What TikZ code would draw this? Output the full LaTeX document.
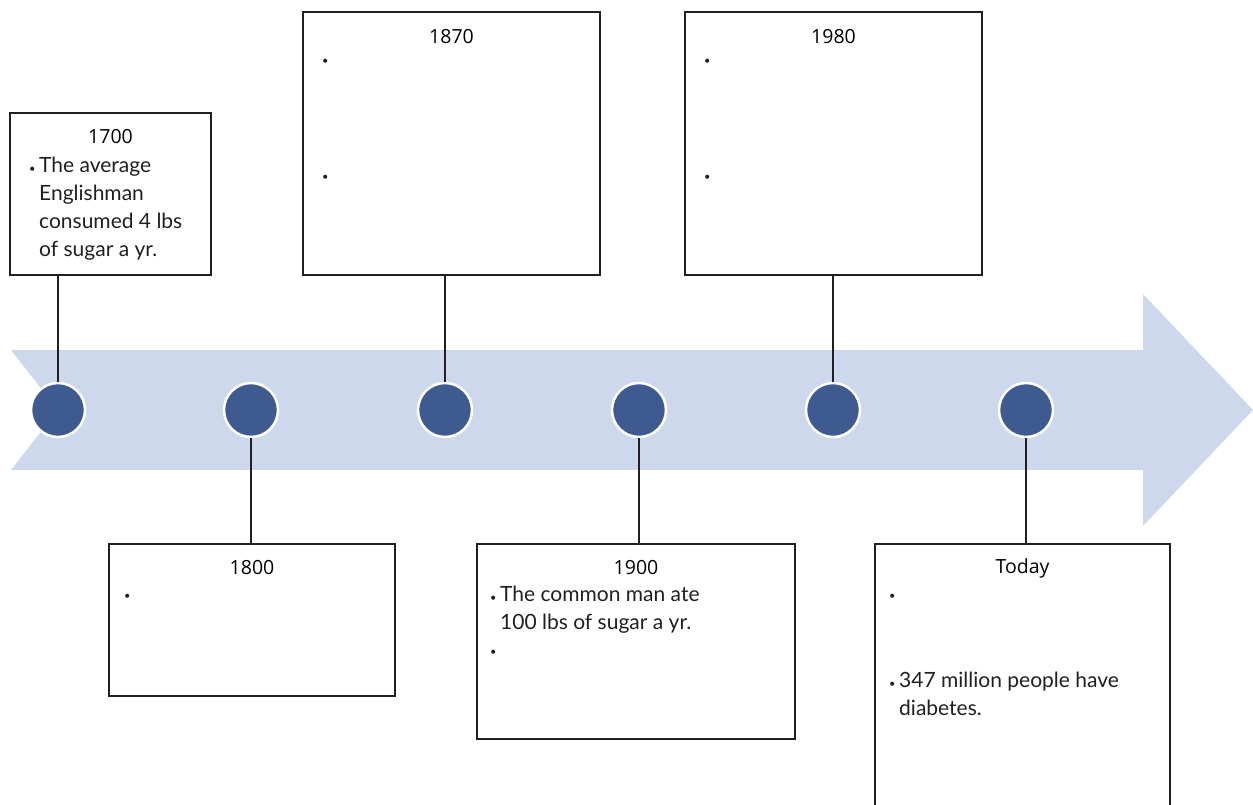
\documentclass[tikz,border=0pt]{standalone}
\usepackage{fontspec}
\setmainfont{Open Sans}
\newfontfamily\notefont{Lato}
\usetikzlibrary{positioning}
\definecolor{bandblue}{HTML}{CDD8EC}
\definecolor{dotblue}{HTML}{3E5A8E}
\definecolor{inkgray}{HTML}{231F20}
\newcommand{\bul}{\makebox[10pt][l]{\fontsize{11}{11}\selectfont\textbullet}}
\newcommand{\ind}{\hspace*{10pt}}
\tikzset{
  datebox/.style={draw=inkgray, line width=2.6pt, fill=white, inner sep=0pt},
  datedot/.style={circle, draw=white, line width=2.5pt, fill=dotblue, minimum size=54pt, inner sep=0pt},
  stem/.style={draw=inkgray, line width=2.8pt},
  yearlabel/.style={font=\fontsize{19.5}{22}\selectfont, text=black, inner sep=0pt, anchor=north},
  note/.style={font=\notefont\fontsize{21}{28}\selectfont, text=inkgray, align=left, anchor=base west, inner sep=0pt},
  longnote/.style={note, anchor=north west}
}

\begin{document}
\begin{tikzpicture}[x=1pt, y=-1pt]
  \clip (0,0) rectangle (1253,805);
  % timeline band
  \fill[bandblue] (11,350) -- (1143,350) -- (1143,294) -- (1253,410) -- (1143,526)
    -- (1143,470) -- (11,470) -- (58,410) -- cycle;

  % boxes
  \node[datebox, minimum width=201, minimum height=162] (b1700) at (110.5,194) {};
  \node[datebox, minimum width=286, minimum height=152] (b1800) at (252,620) {};
  \node[datebox, minimum width=297, minimum height=263] (b1870) at (451.5,143.5) {};
  \node[datebox, minimum width=318, minimum height=195] (b1900) at (636,641.5) {};
  \node[datebox, minimum width=297, minimum height=263] (b1980) at (833.5,143.5) {};
  \node[datebox, minimum width=295, minimum height=286] (btoday) at (1022.5,687) {};

  % dots on the band
  \node[datedot] (d1700) at (58,410) {};
  \node[datedot] (d1800) at (251,410) {};
  \node[datedot] (d1870) at (445,410) {};
  \node[datedot] (d1900) at (639,410) {};
  \node[datedot] (d1980) at (833,410) {};
  \node[datedot] (dtoday) at (1026,410) {};

  \draw[stem] (d1700.north) -- (d1700.north |- b1700.south);
  \draw[stem] (d1870.north) -- (d1870.north |- b1870.south);
  \draw[stem] (d1980.north) -- (d1980.north |- b1980.south);
  \draw[stem] (d1800.south) -- (d1800.south |- b1800.north);
  \draw[stem] (d1900.south) -- (d1900.south |- b1900.north);
  \draw[stem] (dtoday.south) -- (dtoday.south |- btoday.north);

  % years
  \node[yearlabel, below=17pt of b1700.north] (y1700) {1700};
  \node[yearlabel, below=17pt of b1800.north] (y1800) {1800};
  \node[yearlabel, below=18pt of b1870.north] (y1870) {1870};
  \node[yearlabel, below=17pt of b1900.north] (y1900) {1900};
  \node[yearlabel, below=18pt of b1980.north] (y1980) {1980};
  \node[yearlabel, below=16pt of btoday.north] (ytoday) {Today};

  % notes
  \node[longnote] (n1700) at (29,157) {\bul The average\\\ind Englishman\\\ind consumed 4 lbs\\\ind of sugar a yr.};
  \node[note] (n1800) at (124,599) {\bul};
  \node[note] (n1870a) at (322,65) {\bul};
  \node[note] (n1870b) at (322,181) {\bul};
  \node[longnote] (n1900a) at (490,586) {\bul The common man ate\\\ind 100 lbs of sugar a yr.};
  \node[note] (n1900b) at (490,655) {\bul};
  \node[note] (n1980a) at (704,65) {\bul};
  \node[note] (n1980b) at (704,181) {\bul};
  \node[note] (ntodaya) at (889,599) {\bul};
  \node[longnote] (ntodayb) at (889,672) {\bul 347 million people have\\\ind diabetes.};
\end{tikzpicture}
\end{document}
